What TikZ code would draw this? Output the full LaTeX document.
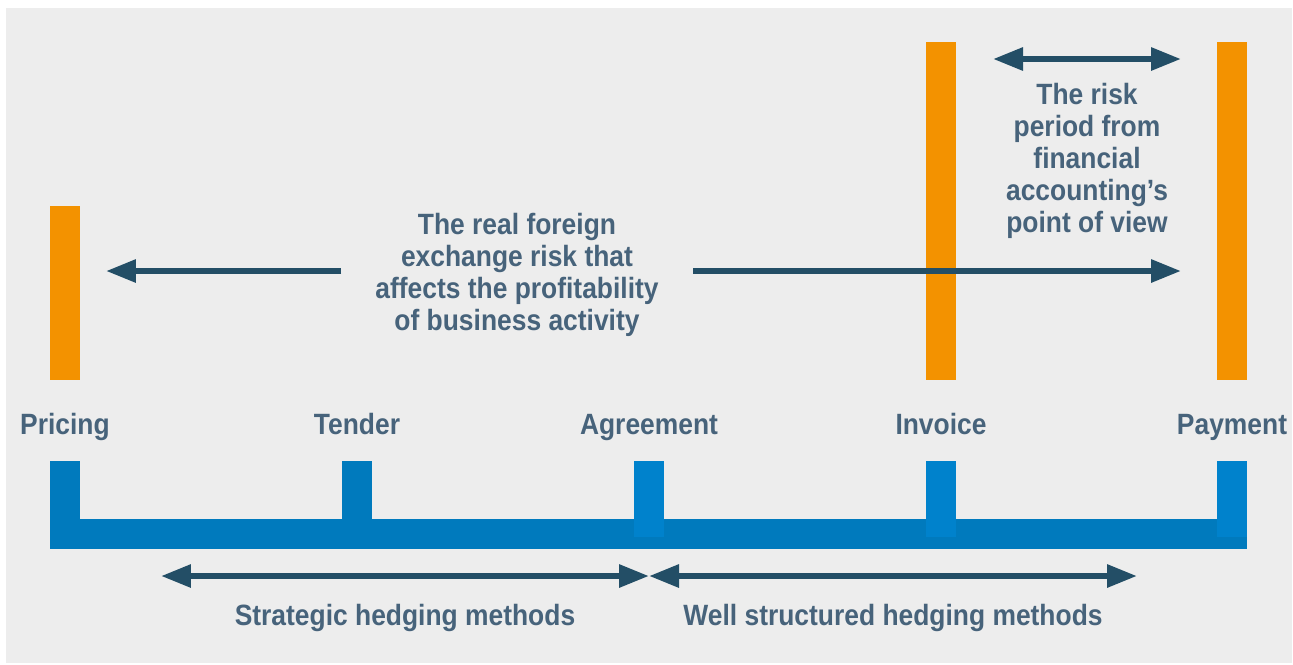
\documentclass[tikz,border=0pt]{standalone}
\usepackage{fontspec}
\setmainfont{Liberation Sans}[FakeStretch=0.9]
\usetikzlibrary{arrows.meta}
\definecolor{bggray}{HTML}{EDEDED}
\definecolor{barblue}{HTML}{007ABD}
\definecolor{tickblue}{HTML}{0082CC}
\definecolor{barorange}{HTML}{F39200}
\definecolor{arrowblue}{HTML}{234E66}
\definecolor{labeltext}{HTML}{47637B}

\begin{document}
\begin{tikzpicture}[x=0.02cm,y=-0.02cm,
    every node/.style={inner sep=0pt, text=labeltext,
        font=\bfseries\fontsize{16.7}{18.3}\selectfont},
    orangebar/.style={fill=barorange, minimum width=0.6cm},
    tick/.style={fill=#1, minimum width=0.6cm},
    oneway/.style={draw=arrowblue, line width=0.12cm,
        -{Triangle[length=0.6cm,width=0.44cm]}},
    twoway/.style={draw=arrowblue, line width=0.12cm,
        {Triangle[length=0.6cm,width=0.44cm]}-{Triangle[length=0.6cm,width=0.44cm]}}]
    \useasboundingbox (0,0) rectangle (1293,664);
    \fill[bggray] (6,8) rectangle (1292,663);

    % orange markers
    \node[orangebar, minimum height=3.48cm] (pricingbar) at (65,293) {};
    \node[orangebar, minimum height=6.76cm] (invoicebar) at (941,211) {};
    \node[orangebar, minimum height=6.76cm] (paymentbar) at (1232,211) {};

    % timeline
    \node[fill=barblue, minimum width=23.94cm, minimum height=0.6cm] (timeline) at (648.5,534) {};
    \node[tick=barblue, minimum height=1.16cm] (pricingtick) at (65,490) {};
    \node[tick=barblue, minimum height=1.16cm] (tendertick) at (357,490) {};
    \node[tick=tickblue, minimum height=1.52cm] (agreementtick) at (649,499) {};
    \node[tick=tickblue, minimum height=1.52cm] (invoicetick) at (941,499) {};
    \node[tick=tickblue, minimum height=1.52cm] (paymenttick) at (1232,499) {};

    \node[anchor=base] (pricing) at (65,434) {Pricing};
    \node[anchor=base] (tender) at (357,434) {Tender};
    \node[anchor=base] (agreement) at (649,434) {Agreement};
    \node[anchor=base] (invoice) at (941,434) {Invoice};
    \node[anchor=base] (payment) at (1232,434) {Payment};

    % risk periods
    \node[align=center] (realrisk) at (517,275)
        {The real foreign\\exchange risk that\\affects the profitability\\of business activity};
    \node[align=center] (accrisk) at (1087,161)
        {The risk\\period from\\financial\\accounting’s\\point of view};

    \coordinate (realleft) at (106,271);
    \coordinate (realgapl) at (341,271);
    \coordinate (realgapr) at (693,271);
    \coordinate (realright) at (1181,271);
    \coordinate (accleft) at (993,59);
    \coordinate (accright) at (1181,59);
    \draw[oneway] (realgapl) -- (realleft);
    \draw[oneway] (realgapr) -- (realright);
    \draw[twoway] (accleft) -- (accright);

    % hedging
    \coordinate (hedgeleft) at (161,576);
    \coordinate (hedgemid) at (649,576);
    \coordinate (hedgeright) at (1137,576);
    \draw[twoway] (hedgeleft) -- (hedgemid);
    \draw[twoway] (hedgemid) -- (hedgeright);
    \node[anchor=base] (strategic) at (405,625) {Strategic hedging methods};
    \node[anchor=base] (structured) at (893,625) {Well structured hedging methods};
\end{tikzpicture}
\end{document}
